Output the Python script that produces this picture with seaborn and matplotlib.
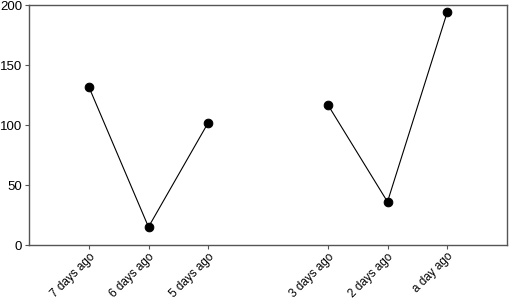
import numpy as np
import pandas as pd
import matplotlib
matplotlib.use("Agg")
import matplotlib.pyplot as plt
import seaborn as sns

categories = ["7 days ago", "6 days ago", "5 days ago", "4 days ago", "3 days ago", "2 days ago", "a day ago"]
values = [132, 15, 102, np.nan, 117, 36, 194]
y_ticks = [0, 50, 100, 150, 200]

sns.set_style("white")
plt.rcParams['font.family'] = ['Liberation Sans', 'DejaVu Sans']

pos = np.arange(len(categories))
seg = np.cumsum(np.isnan(values))
df = pd.DataFrame({"pos": pos, "val": values, "seg": seg, "cat": categories}).dropna()

fig = plt.figure(figsize=(5.12, 3.0), dpi=100)
ax = fig.add_axes([29/512, 55/300, 478/512, 240/300])
sns.lineplot(data=df, x="pos", y="val", units="seg", estimator=None, color="black",
             marker="o", markersize=6.2, linewidth=0.8, markeredgecolor="black", ax=ax)
ax.set_xlim(-1, len(categories))
ax.set_ylim(0, 200)
ax.set_yticks(y_ticks)
ax.set_yticklabels([str(t) for t in y_ticks], fontsize=9.5, color="black")
ax.set_xticks(df["pos"])
ax.set_xticklabels(df["cat"], rotation=45, ha="right", rotation_mode="anchor", fontsize=8.5, color="black")
ax.set_xlabel("")
ax.set_ylabel("")
for s in ax.spines.values():
    s.set_color("#555555")
    s.set_linewidth(1)
ax.tick_params(axis="both", bottom=True, left=True, direction="out", length=3, width=0.8,
               color="#555555", pad=2)
ax.tick_params(axis="x", pad=1)
fig.savefig("out.png", dpi=100)
